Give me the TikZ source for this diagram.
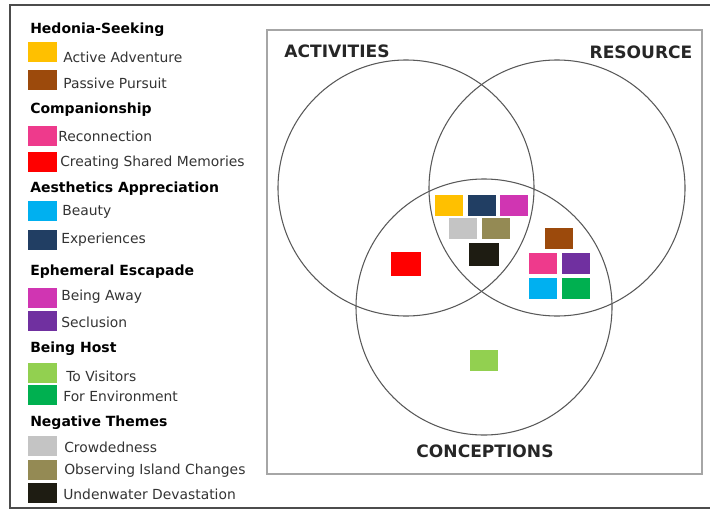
\documentclass[tikz,border=0pt]{standalone}
\usepackage{fontspec}
\setmainfont{DejaVu Sans}
\definecolor{cAdv}{HTML}{FFC000}
\definecolor{cPas}{HTML}{9C4A0C}
\definecolor{cRec}{HTML}{EE3A8C}
\definecolor{cMem}{HTML}{FF0000}
\definecolor{cBea}{HTML}{00B0F0}
\definecolor{cExp}{HTML}{213E63}
\definecolor{cAwa}{HTML}{D035B2}
\definecolor{cSec}{HTML}{7030A0}
\definecolor{cVis}{HTML}{92D050}
\definecolor{cEnv}{HTML}{00B050}
\definecolor{cCro}{HTML}{C4C4C4}
\definecolor{cObs}{HTML}{948A54}
\definecolor{cDev}{HTML}{1E1C12}

\begin{document}
\begin{tikzpicture}[x=0.75pt, y=-0.75pt,
    heading/.style={anchor=west, inner sep=0pt, font=\fontsize{10.5}{12}\selectfont\bfseries},
    item/.style={anchor=west, inner sep=0pt, font=\fontsize{10.4}{12}\selectfont, text=black!80},
    swatch/.style={draw=none, inner sep=0pt, minimum width=21.75pt, minimum height=15pt},
    tile/.style={draw=none, inner sep=0pt, minimum width=21pt, minimum height=15.75pt},
    setname/.style={font=\fontsize{12.8}{15}\selectfont\bfseries, text=black!85},
    ring/.style={draw=black!65, line width=0.8pt}]
			\useasboundingbox (0,0) rectangle (710,510);
			% Frame
			\draw[black!70, line width=1.5pt] (712,5) -- (10,5) -- (10,508) -- (712,508);
			\draw[black!35, line width=0.8pt] (267,30) rectangle (702,474);
			
			% Legend headings
			\foreach \y/\n/\t in {30/hed/Hedonia-Seeking, 110/com/Companionship, 189/aes/Aesthetics Appreciation,
				272/eph/Ephemeral Escapade, 349/hos/Being Host, 423/neg/Negative Themes} {
				\node[heading] (H-\n) at (30,\y) {\t};
			}
			
			% Legend entries
			\foreach \y/\ty/\tx/\c/\t in {52.5/57/63/cAdv/Active Adventure, 80/83/63/cPas/Passive Pursuit,
				136/136/58/cRec/Reconnection, 161.5/163/60/cMem/Creating Shared Memories,
				210.5/212/62/cBea/Beauty, 240/240/61/cExp/Experiences,
				297.5/297/61/cAwa/Being Away, 321/322/61/cSec/Seclusion,
				372.5/376/66/cVis/To Visitors, 395/396/63/cEnv/For Environment,
				445.5/447/64/cCro/Crowdedness, 469.5/471/64/cObs/Observing Island Changes,
				493/494/63/cDev/Undenwater Devastation} {
				\node[swatch, fill=\c] (S-\c) at (42.5,\y) {};
				\node[item] (L-\c) at (\tx,\ty) {\t};
			}
			
			% Venn circles
			\node[ring, circle, minimum size=192pt] (act) at (406,188) {};
			\node[ring, circle, minimum size=192pt] (res) at (557,188) {};
			\node[ring, circle, minimum size=192pt] (con) at (484,307) {};
			\node[setname] (act-t) at (337,51) {ACTIVITIES};
			\node[setname] (res-t) at (641,52) {RESOURCE};
			\node[setname] (con-t) at (485,451) {CONCEPTIONS};
			
			% Themes in the diagram
			\foreach \x/\y/\c in {449/205/cAdv, 481.5/205/cExp, 514/205/cAwa, 463/228.5/cCro, 496/228.5/cObs,
				558.5/238.5/cPas, 543/263.5/cRec, 575.5/263.5/cSec, 543/288.5/cBea, 575.5/288.5/cEnv,
				483.5/360.5/cVis} {
				\node[tile, fill=\c] (T-\c) at (\x,\y) {};
			}
			\node[tile, fill=cDev, minimum width=22.5pt, minimum height=17pt] (T-cDev) at (484,254.5) {};
			\node[tile, fill=cMem, minimum width=22.5pt, minimum height=18pt] (T-cMem) at (406,264) {};
		\end{tikzpicture}
\end{document}
